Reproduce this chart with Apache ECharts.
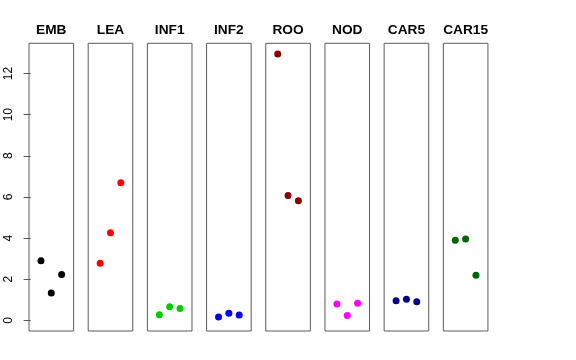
<!DOCTYPE html>
<html>
<head>
<meta charset="utf-8">
<script src="https://cdn.jsdelivr.net/npm/echarts@6/dist/echarts.min.js"></script>
<style>html,body{margin:0;padding:0;background:#fff}#c{width:576px;height:360px}</style>
</head>
<body>
<div id="c"></div>
<script>
var categories = ['EMB', 'LEA', 'INF1', 'INF2', 'ROO', 'NOD', 'CAR5', 'CAR15'];
var colors = ['#000000', '#FF0000', '#00CD00', '#0000FF', '#8B0000', '#FF00FF', '#00008B', '#006400'];
var valuesEMB = [2.90, 1.33, 2.23];
var valuesLEA = [2.77, 4.26, 6.69];
var valuesINF1 = [0.27, 0.66, 0.58];
var valuesINF2 = [0.16, 0.34, 0.26];
var valuesROO = [12.95, 6.07, 5.81];
var valuesNOD = [0.79, 0.24, 0.83];
var valuesCAR5 = [0.95, 1.02, 0.90];
var valuesCAR15 = [3.89, 3.95, 2.19];
var replicates = [1, 2, 3];
var yTicks = [0, 2, 4, 6, 8, 10, 12];

var allValues = [valuesEMB, valuesLEA, valuesINF1, valuesINF2, valuesROO, valuesNOD, valuesCAR5, valuesCAR15];

var chart = echarts.init(document.getElementById('c'), null, {renderer: 'canvas'});
var font = 'Liberation Sans, Arial, Helvetica, sans-serif';
var yMax = 12.95, ext = yMax * 0.04;
var grids = [], xAxes = [], yAxes = [], series = [], texts = [];
var left0 = 29, pitch = 59.19, w = 44.6;
for (var i = 0; i < categories.length; i++) {
  var l = left0 + i * pitch;
  grids.push({left: l, width: w, top: 43.3, bottom: 29, show: true, borderColor: '#5a5a5a', borderWidth: 1, backgroundColor: 'transparent'});
  xAxes.push({gridIndex: i, type: 'value', min: 1 - 1.16, max: 3 + 1.16, show: false});
  yAxes.push({
    gridIndex: i, type: 'value', min: -ext, max: yMax + ext,
    show: i === 0,
    splitLine: {show: false},
    axisLine: {show: false},
    axisTick: {show: true, length: 7, lineStyle: {color: '#555'}, customValues: yTicks},
    axisLabel: {show: true, rotate: 90, margin: 14, color: '#000', fontSize: 12, fontFamily: font, customValues: yTicks}
  });
  var data = replicates.map(function (r, k) { return [r, allValues[i][k]]; });
  series.push({
    type: 'scatter', xAxisIndex: i, yAxisIndex: i, data: data,
    symbol: 'circle', symbolSize: 7, itemStyle: {color: colors[i], opacity: 1},
    clip: false, silent: true, animation: false
  });
  texts.push({
    type: 'text', x: l + w / 2, y: 30, silent: true,
    style: {text: categories[i], textAlign: 'center', textVerticalAlign: 'middle',
      font: 'bold 13.7px ' + font, fill: '#000'}
  });
}
chart.setOption({
  animation: false,
  backgroundColor: '#fff',
  graphic: texts,
  grid: grids,
  xAxis: xAxes,
  yAxis: yAxes,
  series: series
});
</script>
</body>
</html>
